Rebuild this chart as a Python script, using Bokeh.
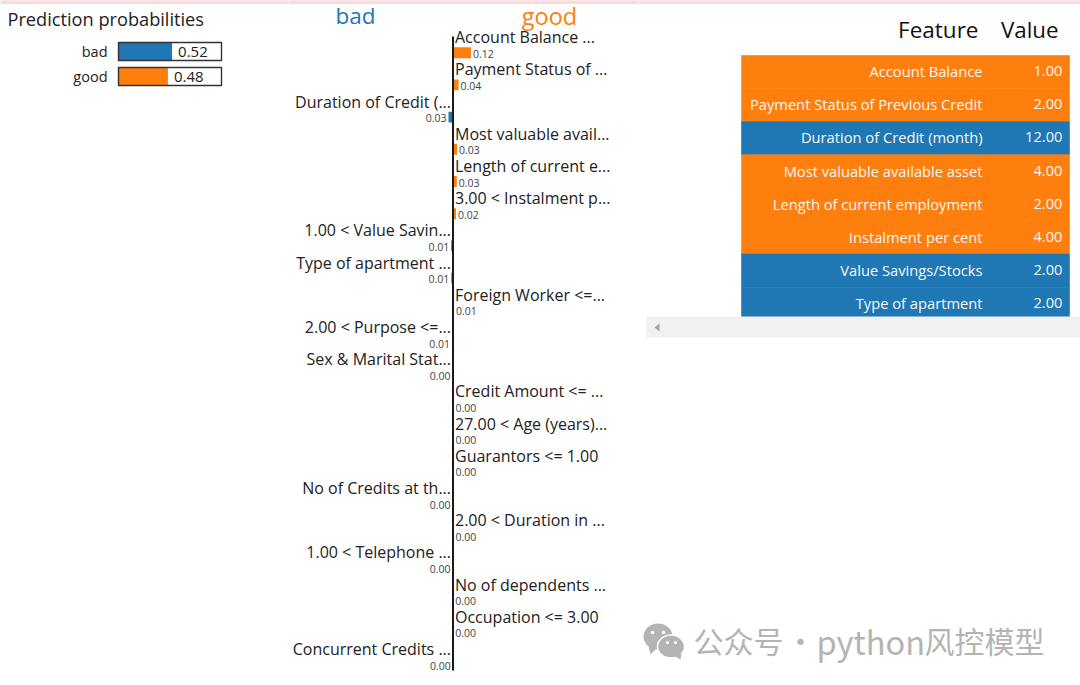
from bokeh.plotting import figure
from bokeh.layouts import row
from bokeh.models import Range1d, Label
from bokeh.core.properties import value
from bokeh.embed import file_html
from bokeh.resources import INLINE

BLUE = "#1f77b4"
ORANGE = "#ff7f0e"
PINK = "#ffd9d9"
FONT = "Open Sans"

# --- data ---
proba_names = ["bad", "good"]
proba_values = [0.52, 0.48]

feature_labels = [
    "Account Balance ...", "Payment Status of ...", "Duration of Credit (...",
    "Most valuable avail...", "Length of current e...", "3.00 < Instalment p...",
    "1.00 < Value Savin...", "Type of apartment ...", "Foreign Worker <=...",
    "2.00 < Purpose <=...", "Sex & Marital Stat...", "Credit Amount <= ...",
    "27.00 < Age (years)...", "Guarantors <= 1.00", "No of Credits at th...",
    "2.00 < Duration in ...", "1.00 < Telephone ...", "No of dependents ...",
    "Occupation <= 3.00", "Concurrent Credits ...",
]
feature_weights = [
    0.12, 0.037, -0.03, 0.027, 0.025, 0.02, -0.012, -0.011, 0.006, -0.006,
    -0.004, 0.004, 0.004, 0.003, -0.003, 0.003, -0.003, 0.002, 0.002, -0.002,
]

table_features = [
    "Account Balance", "Payment Status of Previous Credit", "Duration of Credit (month)",
    "Most valuable available asset", "Length of current employment", "Instalment per cent",
    "Value Savings/Stocks", "Type of apartment",
]
table_values = [1.00, 2.00, 12.00, 4.00, 2.00, 4.00, 2.00, 2.00]
table_sides = ["good", "good", "bad", "good", "good", "good", "bad", "bad"]

H = 685
TOP = 0


def make(x0, x1, width, ys, ye):
    p = figure(width=width, height=H, output_backend="svg", toolbar_location=None,
               x_range=Range1d(x0, x1), y_range=Range1d(ys, ye), min_border=0,
               outline_line_color=None, background_fill_color="white",
               border_fill_color="white")
    p.xaxis.visible = False
    p.yaxis.visible = False
    p.xgrid.visible = False
    p.ygrid.visible = False
    return p


def label(p, left, x, y, text, size, color="#222222", align="left", font=FONT):
    p.add_layout(Label(x=x - left, y=H - (y - TOP), x_units="screen", y_units="screen",
                       text=text, text_font=font, text_font_size=f"{size}px",
                       text_color=color, text_align=align, text_baseline="middle"))


# --- left panel: prediction probabilities ---
L1, W1 = 0, 288
P0, PW = 118, 103          # pixel of 0 and pixels per 1.0
R0, RP = 51, 25            # pixel of row 0 and row pitch
p1 = make((L1 - P0) / PW, (L1 + W1 - P0) / PW, W1, (H + TOP - R0) / RP, (TOP - R0) / RP)
p1.quad(left=[(L1 - P0) / PW], right=[(L1 + W1 - P0) / PW], top=[(-1 - R0) / RP], bottom=[(3.5 - R0) / RP],
        fill_color=PINK, line_color=None)
label(p1, L1, 7, 18.5, "Prediction probabilities", 18.2)
for i, (name, v) in enumerate(zip(proba_names, proba_values)):
    color = BLUE if name == "bad" else ORANGE
    p1.quad(left=[0], right=[v], top=[i - 0.36], bottom=[i + 0.36], fill_color=color, line_color=None)
    p1.quad(left=[0], right=[1], top=[i - 0.36], bottom=[i + 0.36], fill_color=None,
            line_color="#333333", line_width=1.4)
    p1.text(x=[v], y=[i], text=[f"{v:.2f}"], x_offset=6, text_font=value(FONT),
            text_font_size="15px", text_color="#222222", text_baseline="middle")
    p1.text(x=[0], y=[i], text=[name], x_offset=-11, text_font=value(FONT),
            text_font_size="14.5px", text_color="#222222", text_align="right",
            text_baseline="middle")

# --- middle panel: local explanation ---
L2, W2 = 288, 350
X0, XS = 452.5, 150        # pixel of 0 and pixels per 1.0
B0, BP = 52.2, 32.2        # pixel of first bar and row pitch
p2 = make((L2 - X0) / XS, (L2 + W2 - X0) / XS, W2, (H + TOP - B0) / BP, (TOP - B0) / BP)
p2.quad(left=[(L2 - X0) / XS], right=[(L2 + W2 - X0) / XS], top=[(-1 - B0) / BP], bottom=[(3.5 - B0) / BP],
        fill_color=PINK, line_color=None)
label(p2, L2, 355, 15, "bad", 22.5, BLUE, "center")
label(p2, L2, 549, 15, "good", 23.5, ORANGE, "center")
for i, (t, w) in enumerate(zip(feature_labels, feature_weights)):
    color = ORANGE if w > 0 else BLUE
    p2.quad(left=[0], right=[w], top=[i - 0.17], bottom=[i + 0.17], fill_color=color, line_color=None)
    right = w > 0
    p2.text(x=[0], y=[i], text=[t], x_offset=2 if right else -2, y_offset=-15.5,
            text_font=value(FONT), text_font_size="16px", text_color="#222222",
            text_align="left" if right else "right", text_baseline="middle")
    p2.text(x=[w], y=[i], text=[f"{abs(w):.2f}"], x_offset=2 if right else -2, y_offset=1,
            text_font=value(FONT), text_font_size="10.5px", text_color="#444444",
            text_align="left" if right else "right", text_baseline="middle")
p2.segment(x0=[0], x1=[0], y0=[(36 - B0) / BP], y1=[(670 - B0) / BP], line_color="#1a1a1a", line_width=2)

# --- right panel: feature table ---
L3, W3 = 638, 442
p3 = make(L3, L3 + W3, W3, H + TOP, TOP)
p3.quad(left=[L3], right=[L3 + W3], top=[-1], bottom=[3.5], fill_color=PINK, line_color=None)
label(p3, L3, 978, 29, "Feature", 22.5, "#111111", "right")
label(p3, L3, 1058, 29, "Value", 22.3, "#111111", "right")
T0, TP = 55, 33.1
for i, (f, v, s) in enumerate(zip(table_features, table_values, table_sides)):
    color = BLUE if s == "bad" else ORANGE
    p3.quad(left=[741], right=[1069], top=[T0 + i * TP], bottom=[T0 + (i + 1) * TP],
            fill_color=color, line_color=color, line_width=0.6)
    y = T0 + (i + 0.5) * TP - 0.8
    label(p3, L3, 982, y, f, 14.7, "#f7f7f7", "right")
    label(p3, L3, 1062, y, f"{v:.2f}", 14.7, "#f7f7f7", "right")

# scroll bar under the table
p3.quad(left=[646], right=[1080], top=[316], bottom=[337], fill_color="#f1f1f1", line_color=None)
p3.patch(x=[654, 659, 659], y=[327, 323, 331], fill_color="#a3a3a3", line_color=None)

# watermark
GR = "#b4b4b4"
p3.ellipse(x=[657.5], y=[636], width=29, height=26, fill_color=GR, line_color=None)
p3.patch(x=[648, 656, 650], y=[646, 648, 654], fill_color=GR, line_color=None)
p3.ellipse(x=[670.5], y=[646], width=27, height=23, fill_color=GR, line_color="white", line_width=1.5)
p3.patch(x=[673, 681, 680], y=[655, 653, 659], fill_color=GR, line_color=None)
p3.circle(x=[652, 663], y=[632, 632], radius=1.8, fill_color="white", line_color=None)
p3.circle(x=[667, 675], y=[642, 642], radius=1.6, fill_color="white", line_color=None)
CJK = "Noto Sans CJK SC"
label(p3, L3, 693, 639.5, "公众号", 30, GR, "left", CJK)
label(p3, L3, 800, 639.5, "·", 30, GR, "center", CJK)
label(p3, L3, 816, 639.5, "python", 32.5, GR, "left", CJK)
label(p3, L3, 924, 639.5, "风控模型", 30, GR, "left", CJK)

page = row(p1, p2, p3, spacing=0)
open("out.html", "w").write(file_html(page, INLINE))
